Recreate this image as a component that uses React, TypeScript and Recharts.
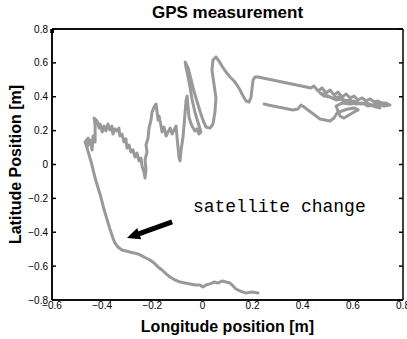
import React from 'react';
import { LineChart, Line, XAxis, YAxis, ReferenceLine, ReferenceDot, Label } from 'recharts';

// GPS track (m)
const PATH_X = [
  0.222, 0.198, 0.174, 0.150, 0.134, 0.122, 0.110, 0.094, 0.078, 0.062, 0.046, 0.030, 0.014, 0.002, -0.010,
  -0.030, -0.049, -0.069, -0.089, -0.109, -0.129, -0.145, -0.161, -0.177, -0.193, -0.209, -0.225, -0.241,
  -0.257, -0.273, -0.289, -0.305, -0.321, -0.337, -0.349, -0.357, -0.369, -0.381, -0.393, -0.404, -0.416,
  -0.428, -0.436, -0.444, -0.452, -0.460, -0.468,
  -0.456, -0.460, -0.448, -0.440, -0.436, -0.428, -0.428, -0.432, -0.420, -0.412, -0.408, -0.400, -0.393,
  -0.385, -0.377, -0.369, -0.361, -0.357, -0.349, -0.341, -0.333, -0.329, -0.321, -0.313, -0.305, -0.301,
  -0.293, -0.285, -0.277, -0.269, -0.261, -0.253, -0.245, -0.241, -0.233, -0.229, -0.225, -0.229, -0.221,
  -0.225, -0.217, -0.213, -0.205, -0.201, -0.193, -0.185, -0.181, -0.177, -0.173, -0.165, -0.161, -0.153,
  -0.145, -0.137, -0.129, -0.121, -0.113, -0.105, -0.101, -0.097, -0.093, -0.089, -0.085, -0.077, -0.073,
  -0.069, -0.065, -0.061, -0.057, -0.053, -0.045, -0.037, -0.030, -0.022, -0.014, -0.006,
  -0.018, -0.030, -0.041, -0.049, -0.057, -0.065, -0.069,
  -0.057, -0.045, -0.034, -0.022, -0.010, 0.002, 0.014, 0.030, 0.042, 0.050, 0.054, 0.046, 0.038, 0.042,
  0.054, 0.066, 0.078, 0.094, 0.110, 0.126, 0.138, 0.150, 0.162, 0.174, 0.186, 0.194, 0.198, 0.202, 0.210,
  0.222, 0.433,
  0.445, 0.461, 0.477, 0.493, 0.509, 0.525, 0.541, 0.557, 0.573, 0.589, 0.605, 0.621, 0.637, 0.653, 0.669,
  0.685, 0.700, 0.716, 0.732, 0.748,
  0.724, 0.700, 0.677, 0.653, 0.629, 0.605, 0.581, 0.557, 0.533, 0.509, 0.485, 0.469,
  0.493, 0.517, 0.541, 0.565, 0.589, 0.613, 0.637, 0.661, 0.685, 0.708, 0.692,
  0.661, 0.621, 0.589, 0.557, 0.533, 0.541, 0.549,
  0.565, 0.585, 0.605, 0.621, 0.605, 0.581, 0.557, 0.537, 0.525, 0.509, 0.489, 0.469, 0.453, 0.437, 0.421,
  0.405, 0.393, 0.381, 0.361, 0.341, 0.322, 0.302, 0.282, 0.262, 0.246,
];
const PATH_Y = [
  -0.759, -0.753, -0.759, -0.747, -0.735, -0.717, -0.700, -0.694, -0.688, -0.700, -0.694, -0.705, -0.711,
  -0.723, -0.711, -0.711, -0.705, -0.700, -0.694, -0.682, -0.664, -0.646, -0.623, -0.605, -0.581, -0.564,
  -0.552, -0.540, -0.528, -0.522, -0.517, -0.511, -0.505, -0.487, -0.463, -0.434, -0.381, -0.322, -0.263,
  -0.198, -0.139, -0.080, -0.032, 0.015, 0.056, 0.097, 0.133,
  0.156, 0.103, 0.145, 0.086, 0.168, 0.133, 0.233, 0.274, 0.257, 0.215, 0.239, 0.192, 0.227,
  0.198, 0.239, 0.204, 0.227, 0.180, 0.210, 0.198, 0.215, 0.168, 0.180, 0.133, 0.151, 0.097,
  0.115, 0.074, 0.086, 0.044, 0.068, 0.021, 0.038, -0.009, -0.044, -0.080, -0.032, 0.027, 0.074,
  0.115, 0.156, 0.215, 0.263, 0.310, 0.339, 0.357, 0.310, 0.263, 0.286, 0.227, 0.192, 0.221,
  0.168, 0.192, 0.215, 0.180, 0.204, 0.227, 0.156, 0.097, 0.038, 0.021, 0.086, 0.168, 0.239,
  0.310, 0.381, 0.404, 0.334, 0.274, 0.239, 0.215, 0.198, 0.210, 0.180, 0.192,
  0.251, 0.310, 0.381, 0.452, 0.517, 0.570, 0.605,
  0.570, 0.499, 0.434, 0.375, 0.316, 0.263, 0.221, 0.215, 0.239, 0.310, 0.393, 0.475, 0.558, 0.617,
  0.635, 0.611, 0.581, 0.546, 0.517, 0.493, 0.469, 0.440, 0.404, 0.375, 0.369, 0.398, 0.452, 0.499, 0.517,
  0.517, 0.452,
  0.463, 0.434, 0.452, 0.422, 0.440, 0.410, 0.428, 0.398, 0.416, 0.393, 0.404, 0.381, 0.393, 0.375, 0.387,
  0.369, 0.375, 0.363, 0.363, 0.351,
  0.345, 0.357, 0.351, 0.363, 0.357, 0.375, 0.369, 0.387, 0.381, 0.398, 0.404, 0.422,
  0.410, 0.393, 0.398, 0.375, 0.381, 0.357, 0.363, 0.345, 0.351, 0.334, 0.339,
  0.357, 0.363, 0.357, 0.363, 0.345, 0.316, 0.286,
  0.274, 0.292, 0.310, 0.322, 0.334, 0.328, 0.316, 0.304, 0.274, 0.257, 0.263, 0.269, 0.286, 0.304, 0.322,
  0.339, 0.351, 0.328, 0.322, 0.328, 0.334, 0.339, 0.345, 0.351, 0.357,
];

const X_TICKS = [-0.6, -0.4, -0.2, 0, 0.2, 0.4, 0.6, 0.8];
const Y_TICKS = [-0.8, -0.6, -0.4, -0.2, 0, 0.2, 0.4, 0.6, 0.8];
const X_DOMAIN = [-0.6, 0.8];
const Y_DOMAIN = [-0.8, 0.8];

const TITLE = 'GPS measurement';
const X_LABEL = 'Longitude position [m]';
const Y_LABEL = 'Latitude Position [m]';

const ARROW_FROM = { x: -0.121, y: -0.339 };
const ARROW_TO = { x: -0.301, y: -0.434 };
const NOTE = { x: -0.038, y: -0.28, text: 'satellite change' };

const data = PATH_X.map((x, i) => ({ x, y: PATH_Y[i] }));

const SANS = '"Liberation Sans", Arial, Helvetica, sans-serif';
const MARGIN = { top: 29, right: 4, bottom: 0, left: 0 };
const fmt = (v: number) => (v === 0 ? '0' : v.toFixed(1).replace('-', '\u2212'));
const tickStyle = { fill: '#000', fontSize: 10, fontFamily: SANS };
const noTickText = () => <g />;

const Arrow = (p: any) => {
  const { x1, y1, x2, y2 } = p;
  const dx = x2 - x1;
  const dy = y2 - y1;
  const len = Math.hypot(dx, dy) || 1;
  const ux = dx / len;
  const uy = dy / len;
  const headLen = 13;
  const headW = 6;
  const bx = x2 - ux * headLen;
  const by = y2 - uy * headLen;
  return (
    <g>
      <line x1={x1} y1={y1} x2={bx + ux * 2} y2={by + uy * 2} stroke="#000" strokeWidth={5} />
      <polygon
        points={`${x2},${y2} ${bx - uy * headW},${by + ux * headW} ${bx + uy * headW},${by - ux * headW}`}
        fill="#000"
      />
    </g>
  );
};

const Note = (p: any) => (
  <text x={p.cx} y={p.cy} fill="#000" fontSize={18} fontFamily='"Liberation Mono", "Courier New", monospace'>
    {NOTE.text}
  </text>
);

const TitleText = (p: any) => {
  const vb = p.viewBox || {};
  return (
    <text x={vb.x + vb.width / 2} y={vb.y - 11} textAnchor="middle" fill="#000"
      fontSize={17} fontWeight="bold" fontFamily={SANS}>{TITLE}</text>
  );
};

const XLabelText = (p: any) => {
  const vb = p.viewBox || {};
  return (
    <text x={vb.x + vb.width / 2} y={vb.y + 32} textAnchor="middle" fill="#000"
      fontSize={16} fontWeight="bold" fontFamily={SANS}>{X_LABEL}</text>
  );
};

const YLabelText = (p: any) => {
  const vb = p.viewBox || {};
  const cx = 21;
  const cy = vb.y + vb.height / 2;
  return (
    <text x={cx} y={cy} transform={`rotate(-90 ${cx} ${cy})`} textAnchor="middle" fill="#000"
      fontSize={16} fontWeight="bold" fontFamily={SANS}>{Y_LABEL}</text>
  );
};

const AX = { stroke: '#000', strokeWidth: 1.5 };

// axis box with inward ticks (MATLAB style), drawn on top of the data chart
const Frame = () => (
  <LineChart width={407} height={339} margin={MARGIN}>
    <XAxis xAxisId="b" orientation="bottom" type="number" domain={X_DOMAIN} ticks={X_TICKS} interval={0}
      allowDataOverflow height={39} {...AX} tick={noTickText} tickLine={false} axisLine={AX} />
    <XAxis xAxisId="t" orientation="top" mirror type="number" domain={X_DOMAIN} ticks={X_TICKS} interval={0}
      allowDataOverflow {...AX} tick={noTickText} tickSize={4} tickLine={AX} axisLine={AX} />
    <XAxis xAxisId="bm" orientation="bottom" mirror type="number" domain={X_DOMAIN} ticks={X_TICKS} interval={0}
      allowDataOverflow {...AX} tick={noTickText} tickSize={4} tickLine={AX} axisLine={false} />
    <YAxis yAxisId="l" orientation="left" type="number" domain={Y_DOMAIN} ticks={Y_TICKS} interval={0}
      allowDataOverflow width={52} {...AX} tick={noTickText} tickLine={false} axisLine={AX} />
    <YAxis yAxisId="lm" orientation="left" mirror type="number" domain={Y_DOMAIN} ticks={Y_TICKS} interval={0}
      allowDataOverflow {...AX} tick={noTickText} tickSize={4} tickLine={AX} axisLine={false} />
    <YAxis yAxisId="rm" orientation="right" mirror type="number" domain={Y_DOMAIN} ticks={Y_TICKS} interval={0}
      allowDataOverflow {...AX} tick={noTickText} tickSize={4} tickLine={AX} axisLine={AX} />
  </LineChart>
);

export default function App() {
  return (
    <div style={{ position: 'absolute', left: 0, top: 0, width: 407, height: 339 }}>
      <div style={{ position: 'absolute', left: 0, top: 0 }}>
        <LineChart width={407} height={339} data={data} margin={MARGIN}>
          <XAxis
            dataKey="x"
            type="number"
            domain={X_DOMAIN}
            ticks={X_TICKS}
            interval={0}
            allowDataOverflow
            height={39}
            {...AX}
            tickFormatter={fmt}
            tick={tickStyle}
            tickLine={false}
            tickSize={0}
            tickMargin={2}
            axisLine={AX}
          >
            <Label content={XLabelText} />
          </XAxis>
          <XAxis xAxisId="top" orientation="top" mirror type="number" domain={X_DOMAIN} ticks={X_TICKS} interval={0}
            allowDataOverflow {...AX} tick={noTickText} tickSize={4} tickLine={AX} axisLine={AX}>
            <Label content={TitleText} />
          </XAxis>
          <YAxis
            type="number"
            domain={Y_DOMAIN}
            ticks={Y_TICKS}
            interval={0}
            allowDataOverflow
            width={52}
            {...AX}
            tickFormatter={fmt}
            tick={tickStyle}
            tickLine={false}
            tickSize={0}
            tickMargin={4}
            axisLine={AX}
          >
            <Label content={YLabelText} />
          </YAxis>
          <Line
            dataKey="y"
            type="linear"
            stroke="#999999"
            strokeWidth={3}
            strokeLinejoin="round"
            strokeLinecap="round"
            dot={false}
            activeDot={false}
            isAnimationActive={false}
          />
          <ReferenceLine segment={[ARROW_FROM, ARROW_TO]} shape={Arrow} />
          <ReferenceDot x={NOTE.x} y={NOTE.y} r={0} shape={Note} />
        </LineChart>
      </div>
      <div style={{ position: 'absolute', left: 0, top: 0, pointerEvents: 'none' }}>
        <Frame />
      </div>
    </div>
  );
}
